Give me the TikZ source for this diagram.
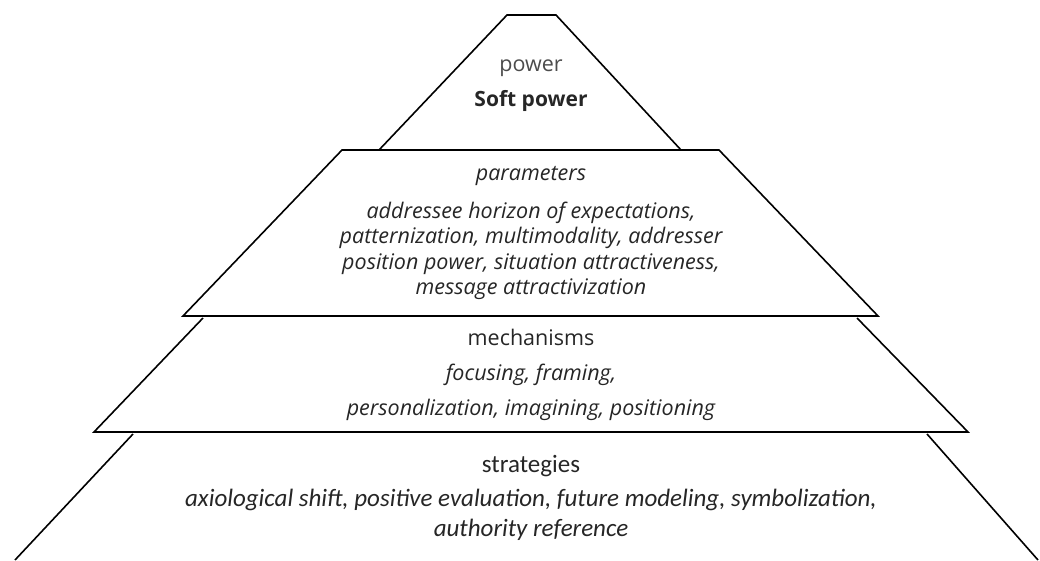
\documentclass[tikz,border=0pt]{standalone}
\usepackage{fontspec}
\setmainfont{Open Sans}
\newfontfamily\carlito{Carlito}
\usetikzlibrary{positioning}

\begin{document}
\begin{tikzpicture}[x=1pt, y=-1pt,
  edge/.style={line width=1.6pt, line join=miter},
  head/.style={font=\fontsize{21.5}{25.5}\selectfont, text=black!85, align=center},
  body/.style={font=\fontsize{21.5}{25.5}\selectfont\itshape, text=black!85, align=center},
  lowhead/.style={font=\carlito\fontsize{25}{30}\selectfont, text=black!85, align=center},
  lowbody/.style={font=\carlito\fontsize{25}{30}\selectfont\itshape, text=black!85, align=center},
]
\useasboundingbox (0,0) rectangle (1040,561);
% tip of the pyramid
\draw[edge] (379,150) -- (507,15) -- (556,15) -- (681,150);
% second layer
\draw[edge] (342,150) -- (719,150) -- (878,316) -- (183,316) -- cycle;
% third layer
\draw[edge] (203,318) -- (94,432) -- (968,432) -- (857,318);
% base, open at the bottom
\draw[edge] (133,434) -- (15,560);
\draw[edge] (927,434) -- (1038,560);

% tip
\node[head, text=black!70] (pw) at (531,68) {power};
\node[head, font=\fontsize{21}{25}\selectfont\bfseries] (soft) at (531,101) {Soft power};
% parameters
\node[body] (par) at (531,176) {parameters};
\node[body] (parlist) at (531,251) {addressee horizon of expectations,\\
  patternization, multimodality, addresser\\
  position power, situation attractiveness,\\
  message attractivization};
% mechanisms
\node[head] (mech) at (531,337) {mechanisms};
\node[body] (mech1) at (531,375) {focusing, framing,};
\node[body] (mech2) at (531,410) {personalization, imagining, positioning};
% strategies
\node[lowhead] (strat) at (531,466) {strategies};
\node[lowbody] (stratlist) at (531,515) {axiological shift, positive evaluation, future modeling, symbolization,\\
  authority reference};
\end{tikzpicture}
\end{document}
